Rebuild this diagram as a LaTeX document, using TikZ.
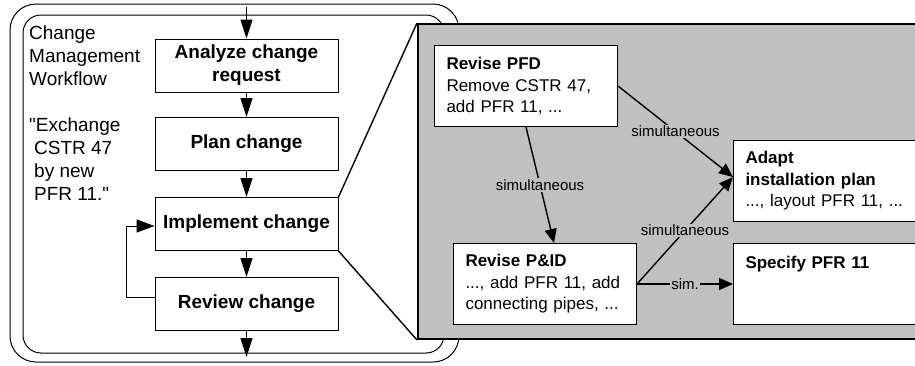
\documentclass[tikz,border=0pt]{standalone}
\usepackage{fontspec}
\setmainfont{Liberation Sans}[Ligatures=TeXOff]
\usetikzlibrary{arrows.meta}
\definecolor{panelgray}{RGB}{192,192,192}

\begin{document}
\begin{tikzpicture}[x=1pt,y=-1pt,
  every node/.style={font=\fontsize{19}{23}\selectfont},
  wfframe/.style={draw=black,line width=1pt,rounded corners=#1},
  wf/.style={draw=black,line width=1pt,fill=white,align=center,inner sep=0pt,minimum width=183pt,minimum height=53pt,font=\fontsize{19}{23}\selectfont\bfseries},
  sub/.style={draw=black,line width=1pt,fill=white,align=left,anchor=north west,inner xsep=12pt,inner ysep=0pt,text width=159pt,minimum height=81pt,font=\fontsize{17}{21.5}\selectfont},
  panel/.style={draw=black,line width=2pt,fill=panelgray,anchor=north west,inner sep=0pt,minimum width=520pt,minimum height=315pt},
  lbl/.style={fill=panelgray,inner sep=1pt,font=\fontsize{15}{18}\selectfont},
  ar/.style={-{Triangle[length=19pt,width=12pt]},line width=1pt},
  sar/.style={-{Triangle[length=14pt,width=12pt]},line width=1.4pt}]
\clip (0,0) rectangle (915,365);
\draw[wfframe=26pt] (10,4) rectangle (459,362);
\draw[wfframe=18pt] (23,15) rectangle (444,353);
\node[anchor=north west,align=left,inner sep=0pt] (title) at (29,26) {Change\\Management\\Workflow};
\node[anchor=north west,align=left,inner sep=0pt] (quote) at (29,118) {"Exchange\\\hspace*{5pt}CSTR 47\\\hspace*{5pt}by new\\\hspace*{5pt}PFR 11."};
\node[wf] (acr) at (246.5,65.5) {Analyze change\\request};
\node[wf] (plan) at (246.5,144) {Plan change};
\node[wf] (impl) at (246.5,224) {Implement change};
\node[wf] (rev) at (246.5,304) {Review change};
\coordinate (wfin) at (246.5,7);
\coordinate (wfout) at (246.5,357);
\draw[ar] (wfin) -- (acr);
\draw[ar] (acr) -- (plan);
\draw[ar] (plan) -- (impl);
\draw[ar] (impl) -- (rev);
\draw[ar] (rev) -- (wfout);
\draw[ar,-{Triangle[length=18pt,width=13pt]}] ([yshift=7pt]rev.west) -- ++(-28,0) |- ([yshift=-2pt]impl.west);
\node[panel] (detail) at (417,23) {};
\draw[line width=1.4pt] (impl.north east) -- (detail.north west);
\draw[line width=1.4pt] (impl.south east) -- (detail.south west);
\node[sub] (pfd) at (434,45) {\textbf{Revise PFD}\\Remove CSTR 47,\\add PFR 11, ...};
\node[sub] (pid) at (453,243) {\textbf{Revise P\&ID}\\..., add PFR 11, add\\connecting pipes, ...};
\node[sub] (adapt) at (733,140) {\textbf{Adapt}\\\textbf{installation plan}\\..., layout PFR 11, ...};
\node[sub] (spec) at (733,243) {\textbf{Specify PFR 11}\\~\\~};
\draw[sar] (pfd.south) -- node[lbl]{simultaneous} ([xshift=9pt]pid.north);
\draw[sar] (pfd.east) -- node[lbl]{simultaneous} ([yshift=4pt]adapt.west);
\draw[sar] (pid.east) -- node[lbl]{simultaneous} ([yshift=4pt]adapt.west);
\draw[sar] (pid.east) -- node[lbl]{sim.} (spec.west);
\end{tikzpicture}
\end{document}
